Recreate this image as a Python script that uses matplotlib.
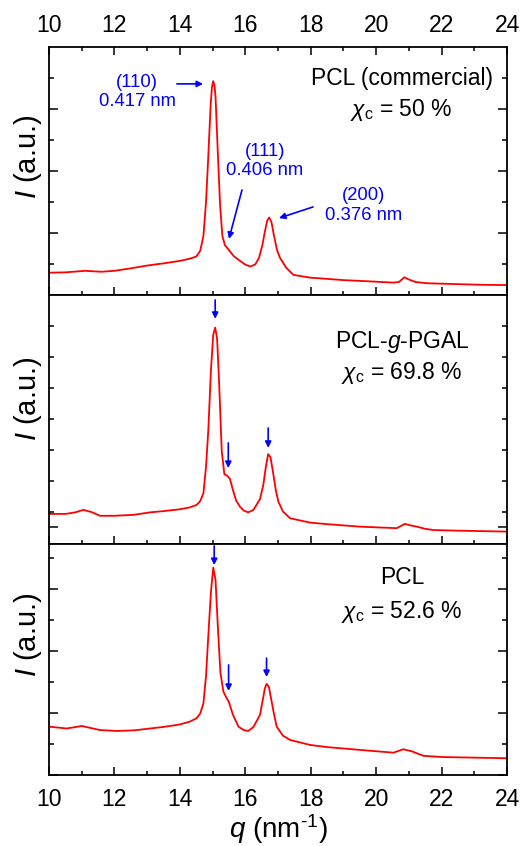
import matplotlib
matplotlib.use("Agg")
import matplotlib.pyplot as plt
from matplotlib.ticker import MultipleLocator, FixedLocator

plt.rcParams['font.family'] = ['Liberation Sans', 'DejaVu Sans']
plt.rcParams['mathtext.fontset'] = 'custom'
plt.rcParams['mathtext.rm'] = 'Liberation Sans'
plt.rcParams['mathtext.it'] = 'Liberation Sans:italic'
plt.rcParams['mathtext.bf'] = 'Liberation Sans:bold'

# ---------------- data ----------------
q_top = [10, 10.5, 11.1, 11.6, 12.0, 12.5, 13.0, 13.5, 14.0, 14.3, 14.5, 14.62, 14.72, 14.80, 14.87,
         14.94, 14.98, 15.02, 15.06, 15.09, 15.16, 15.23, 15.30, 15.38, 15.5, 15.65, 15.84, 16.0,
         16.15, 16.3, 16.42, 16.52, 16.6, 16.67, 16.73, 16.8, 16.88, 16.97, 17.06, 17.25, 17.47,
         17.98, 18.5, 19.0, 19.8, 20.53, 20.7, 20.86, 21.0, 21.2, 21.55, 22.5, 23.2, 24]
I_top = [0.72, 0.73, 0.78, 0.75, 0.78, 0.86, 0.95, 1.02, 1.10, 1.17, 1.24, 1.42, 1.9, 3.0, 4.5,
         6.1, 6.7, 6.9, 6.75, 6.4, 4.6, 2.9, 1.9, 1.6, 1.45, 1.25, 1.1, 0.98,
         0.92, 0.98, 1.2, 1.6, 2.05, 2.4, 2.5, 2.35, 1.9, 1.45, 1.2, 0.88, 0.65,
         0.56, 0.52, 0.48, 0.44, 0.40, 0.42, 0.57, 0.50, 0.42, 0.38, 0.35, 0.33, 0.32]

q_mid = [10, 10.5, 10.8, 11.05, 11.3, 11.56, 12.0, 12.58, 13.09, 13.5, 14.0, 14.3, 14.51, 14.62,
         14.72, 14.80, 14.87, 14.95, 15.02, 15.08, 15.14, 15.2, 15.28, 15.36, 15.45, 15.53, 15.62,
         15.72, 15.84, 15.95, 16.09, 16.25, 16.45, 16.55, 16.63, 16.7, 16.77, 16.85, 16.93, 17.01,
         17.15, 17.37, 17.98, 18.5, 19.5, 20.63, 20.88, 21.05, 21.24, 21.5, 21.75, 22.5, 24]
I_mid = [0.97, 0.97, 1.02, 1.10, 1.03, 0.91, 0.91, 0.94, 1.02, 1.06, 1.12, 1.18, 1.26, 1.38,
         1.63, 2.5, 3.68, 5.6, 6.75, 6.98, 6.6, 5.2, 3.0, 2.25, 2.2, 2.1, 1.75,
         1.4, 1.2, 1.08, 1.02, 1.1, 1.45, 1.9, 2.5, 2.9, 2.8, 2.3, 1.75, 1.37,
         1.05, 0.83, 0.69, 0.64, 0.56, 0.51, 0.65, 0.6, 0.56, 0.49, 0.45, 0.43, 0.40]

q_bot = [10, 10.54, 11.0, 11.56, 12.07, 12.6, 13.09, 13.5, 14.0, 14.3, 14.51, 14.62, 14.72, 14.80,
         14.87, 14.95, 15.02, 15.09, 15.16, 15.24, 15.33, 15.42, 15.5, 15.62, 15.79, 15.95, 16.09,
         16.25, 16.45, 16.53, 16.6, 16.65, 16.72, 16.8, 16.88, 16.96, 17.15, 17.37, 17.98, 18.5,
         19.5, 20.53, 20.83, 21.1, 21.44, 22.0, 23.0, 24]
I_bot = [1.56, 1.50, 1.58, 1.45, 1.42, 1.44, 1.50, 1.55, 1.63, 1.72, 1.83, 1.98, 2.31, 3.2,
         4.5, 5.9, 6.69, 6.3, 4.8, 3.3, 2.69, 2.5, 2.35, 1.95, 1.56, 1.45, 1.42,
         1.55, 1.94, 2.4, 2.8, 2.94, 2.85, 2.4, 1.95, 1.56, 1.27, 1.13, 0.97, 0.9,
         0.81, 0.72, 0.83, 0.76, 0.62, 0.58, 0.56, 0.54]

x_ticks = [10, 12, 14, 16, 18, 20, 22, 24]

sample_names = ['PCL (commercial)', 'PCL-$g$-PGAL', 'PCL']
crystallinity = ['50', '69.8', '52.6']

# peak marker arrows (q, tail, tip) for middle and bottom panels
mid_arrows = [(15.08, 7.87, 7.26), (15.48, 3.26, 2.45), (16.70, 3.74, 3.10)]
bot_arrows = [(15.05, 7.39, 6.77), (15.49, 3.55, 2.71), (16.65, 3.77, 3.16)]

# top panel reflection annotations: label, text pos, arrow tail, arrow tip
top_labels = ['(110)\n0.417 nm', '(111)\n0.406 nm', '(200)\n0.376 nm']
top_text_pos = [(12.70, 6.55), (16.60, 4.32), (19.63, 2.89)]
top_arrow_tail = [(13.91, 6.81), (15.90, 3.39), (18.07, 2.84)]
top_arrow_tip = [(14.71, 6.81), (15.50, 1.81), (17.03, 2.48)]

# ---------------- figure ----------------
fig = plt.figure(figsize=(5.22, 8.46), dpi=100)
W, H = 522, 846
L, R = 49, 507

def make_ax(top_px, bot_px):
    return fig.add_axes([L / W, (H - bot_px) / H, (R - L) / W, (bot_px - top_px) / H])

ax1 = make_ax(47, 295)
ax2 = make_ax(295, 544)
ax3 = make_ax(544, 775)

red = '#ff0000'
blue = '#0000ff'

ax1.plot(q_top, I_top, color=red, lw=1.3)
ax2.plot(q_mid, I_mid, color=red, lw=1.3)
ax3.plot(q_bot, I_bot, color=red, lw=1.3)

ax1.set_ylim(0, 8.0)
ax2.set_ylim(0, 8.03)
ax3.set_ylim(0, 7.45)

for ax in (ax1, ax2, ax3):
    ax.set_xlim(10, 24)
    ax.xaxis.set_major_locator(FixedLocator(x_ticks))
    ax.xaxis.set_minor_locator(MultipleLocator(1))
    for s in ax.spines.values():
        s.set_linewidth(1.3)
    ax.tick_params(axis='both', which='both', direction='in', width=1.1, labelsize=16.5,
                   right=True, left=True, labelleft=False, labelright=False)
    ax.tick_params(axis='x', which='major', length=6, pad=7)
    ax.tick_params(axis='x', which='minor', length=3)
    ax.tick_params(axis='y', which='major', length=6.5)
    ax.tick_params(axis='y', which='minor', length=3.5)

ax1.yaxis.set_major_locator(FixedLocator([0, 2, 4, 6]))
ax1.yaxis.set_minor_locator(FixedLocator([1, 3, 5, 7]))
ax2.yaxis.set_major_locator(FixedLocator([0.55]))
ax2.yaxis.set_minor_locator(FixedLocator([1.03, 2.03, 3.03, 4.03, 5.03, 6.03, 7.03]))
ax3.yaxis.set_major_locator(FixedLocator([0, 2, 4, 6]))
ax3.yaxis.set_minor_locator(FixedLocator([1, 3, 5, 7]))

ax1.tick_params(axis='x', which='both', top=True, bottom=True, labeltop=True, labelbottom=False)
ax2.tick_params(axis='x', which='both', top=False, bottom=True, labeltop=False, labelbottom=False)
ax3.tick_params(axis='x', which='both', top=False, bottom=True, labeltop=False, labelbottom=True)
ax3.tick_params(axis='x', which='major', pad=9)

# y labels
for ax, yf in ((ax1, 0.556), (ax2, 0.582), (ax3, 0.606)):
    ax.text(-0.046, yf, '$I$ (a.u.)', transform=ax.transAxes, rotation=90,
            ha='center', va='center', fontsize=21)

ax3.set_xlabel(r'$q$ (nm$^{\text{-}1}$)', fontsize=20, labelpad=1)

# sample texts
for ax, name, xc, yn, yc in ((ax1, sample_names[0], crystallinity[0], 0.871, 0.746),
                              (ax2, sample_names[1], crystallinity[1], 0.811, 0.687),
                              (ax3, sample_names[2], crystallinity[2], 0.853, 0.706)):
    ax.text(0.771, yn, name, transform=ax.transAxes, ha='center', va='center', fontsize=16.5)
    ax.text(0.769, yc, r'$\chi_{\mathrm{c}}$ = ' + xc + ' %', transform=ax.transAxes,
            ha='center', va='center', fontsize=16.5)

# top annotations
for lab, tp, ta, tt in zip(top_labels, top_text_pos, top_arrow_tail, top_arrow_tip):
    ax1.text(tp[0], tp[1], lab, color=blue, fontsize=13.3, ha='center', va='center',
             multialignment='center', linespacing=1.2)
    ax1.annotate('', xy=tt, xytext=ta,
                 arrowprops=dict(arrowstyle='-|>', color=blue, lw=1.2, mutation_scale=9,
                                 shrinkA=0, shrinkB=0))

for ax, arrs in ((ax2, mid_arrows), (ax3, bot_arrows)):
    for qq, tail, tip in arrs:
        ax.annotate('', xy=(qq, tip), xytext=(qq, tail),
                    arrowprops=dict(arrowstyle='-|>', color=blue, lw=1.2, mutation_scale=9,
                                    shrinkA=0, shrinkB=0))

fig.savefig('out.png', dpi=100)
